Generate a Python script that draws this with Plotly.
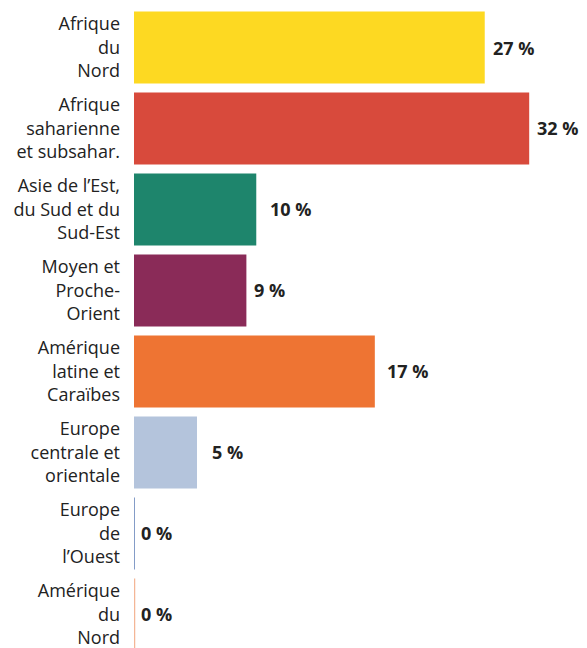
import plotly.graph_objects as go

categories = [
    "Afrique<br>du<br>Nord",
    "Afrique<br>saharienne<br>et subsahar.",
    "Asie de l’Est,<br>du Sud et du<br>Sud-Est",
    "Moyen et<br>Proche-<br>Orient",
    "Amérique<br>latine et<br>Caraïbes",
    "Europe<br>centrale et<br>orientale",
    "Europe<br>de<br>l’Ouest",
    "Amérique<br>du<br>Nord",
]
# bar lengths
values = [28.4, 32.0, 9.9, 9.1, 19.5, 5.1, 0, 0]
# printed value labels
value_labels = ["27 %", "32 %", "10 %", "9 %", "17 %", "5 %", "0 %", "0 %"]
colors = ["#FDD922", "#D84A3C", "#1E856C", "#8A2B58", "#EE7433", "#B4C4DC", "#5B7BB5", "#F4B696"]
label_shift = [6, 6, 12, 6, 10, 13, 5, 5]
line_widths = [2, 2, 2, 2, 2, 2, 1.5, 2.5]

fig = go.Figure()
fig.add_trace(go.Bar(
    x=values, y=categories, orientation="h",
    marker=dict(color=colors, line=dict(width=0)),
    hoverinfo="skip",
))

for i, (v, lab) in enumerate(zip(values, value_labels)):
    fig.add_annotation(
        x=v, y=categories[i], xref="x", yref="y",
        text=f"<b>{lab}</b>", showarrow=False,
        xanchor="left", yanchor="middle", xshift=label_shift[i],
        font=dict(family="Open Sans", size=18, color="#222222"),
    )
    if v == 0:
        fig.add_shape(
            type="line", xref="x", yref="y",
            x0=0, x1=0, y0=i - 0.445, y1=i + 0.445,
            line=dict(color=colors[i], width=line_widths[i]),
        )

fig.update_layout(
    width=587, height=648,
    margin=dict(l=134, r=0, t=7, b=0),
    paper_bgcolor="white", plot_bgcolor="white",
    bargap=0.111,
    showlegend=False,
    xaxis=dict(range=[0, 36.68], visible=False, showgrid=False, zeroline=False),
    yaxis=dict(
        type="category", range=[7.414, -0.5],
        showgrid=False, zeroline=False, showline=False, ticks="",
        ticklabelstandoff=13,
        tickfont=dict(family="Open Sans", size=18, color="#222222"),
    ),
)

fig.write_html("out.html")
